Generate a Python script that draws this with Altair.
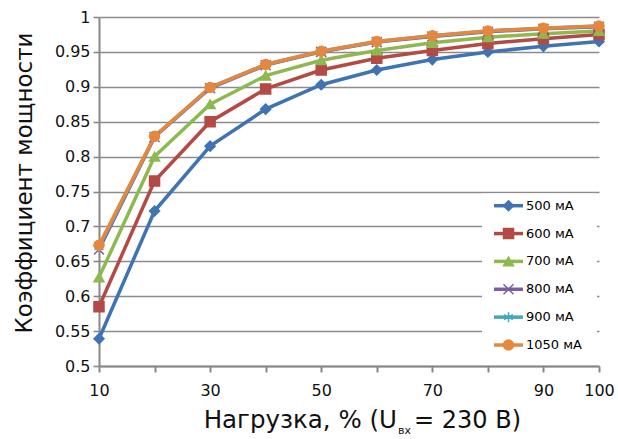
import altair as alt
import pandas as pd

# ---- data ----
load = [10, 20, 30, 40, 50, 60, 70, 80, 90, 100]
series_names = ["500 мА", "600 мА", "700 мА", "800 мА", "900 мА", "1050 мА"]
pf_500 = [0.539, 0.722, 0.815, 0.868, 0.903, 0.924, 0.939, 0.950, 0.958, 0.965]
pf_600 = [0.585, 0.765, 0.850, 0.897, 0.924, 0.941, 0.952, 0.962, 0.969, 0.975]
pf_700 = [0.627, 0.800, 0.875, 0.916, 0.938, 0.952, 0.963, 0.971, 0.976, 0.980]
pf_800 = [0.667, 0.828, 0.898, 0.931, 0.950, 0.964, 0.972, 0.979, 0.983, 0.986]
pf_900 = [0.670, 0.829, 0.899, 0.932, 0.951, 0.965, 0.973, 0.980, 0.984, 0.987]
pf_1050 = [0.673, 0.829, 0.899, 0.932, 0.951, 0.965, 0.973, 0.980, 0.984, 0.987]

y_ticks = [0.5, 0.55, 0.6, 0.65, 0.7, 0.75, 0.8, 0.85, 0.9, 0.95, 1.0]
x_ticks = [10, 20, 30, 40, 50, 60, 70, 80, 90, 100]
x_labels_shown = [10, 30, 50, 70, 90, 100]

y_title = "Коэффициент мощности"
x_title_main = "Нагрузка, % (U"
x_title_sub = "вх"
x_title_end = "= 230 В)"

colors = ["#3F73B1", "#B34A46", "#8DB950", "#7A5FA0", "#44A6C0", "#E5883E"]
shapes = [
    "diamond",
    "square",
    "triangle-up",
    "M-1,-1L1,1M-1,1L1,-1",
    "M0,-1L0,1M-0.87,-0.5L0.87,0.5M-0.87,0.5L0.87,-0.5",
    "circle",
]

FONT = "DejaVu Sans"
TXT = "#111111"
GREY = "#888888"

rows = []
for name, vals in zip(series_names, [pf_500, pf_600, pf_700, pf_800, pf_900, pf_1050]):
    for x, v in zip(load, vals):
        rows.append({"load": x, "pf": v, "series": name})
df = pd.DataFrame(rows)
legend_df = pd.DataFrame({"series": series_names})

color_scale = alt.Scale(domain=series_names, range=colors)
shape_scale = alt.Scale(domain=series_names, range=shapes)

x_enc = alt.X(
    "load:Q",
    scale=alt.Scale(domain=[10, 100], nice=False, zero=False),
    axis=alt.Axis(
        values=x_ticks,
        labelExpr="indexof(" + str(x_labels_shown) + ", datum.value) >= 0 ? datum.label : ''",
        title=None,
        grid=False,
        domainColor=GREY,
        domainWidth=2,
        tickColor=GREY,
        tickWidth=2,
        tickSize=6,
        labelFont=FONT,
        labelFontSize=16,
        labelColor=TXT,
        labelPadding=10,
        labelFlush=False,
        labelOverlap=False,
    ),
)
y_enc = alt.Y(
    "pf:Q",
    scale=alt.Scale(domain=[0.5, 1.0], nice=False, zero=False),
    axis=alt.Axis(
        values=y_ticks,
        format="~g",
        title=y_title,
        titleFont=FONT,
        titleFontSize=23,
        titleFontWeight="normal",
        titleColor=TXT,
        titleAngle=-90,
        titleX=-68,
        titleY=165.5,
        titleAlign="center",
        titleBaseline="alphabetic",
        grid=True,
        gridColor="#8C8C8C",
        gridWidth=1.6,
        domainColor=GREY,
        domainWidth=2,
        tickColor=GREY,
        tickWidth=1.6,
        tickSize=6,
        labelFont=FONT,
        labelFontSize=16,
        labelColor=TXT,
        labelPadding=3,
        labelFlush=False,
        labelOverlap=False,
    ),
)

base = alt.Chart(df)

lines = base.mark_line(strokeWidth=3.5).encode(
    x=x_enc,
    y=y_enc,
    color=alt.Color("series:N", scale=color_scale, sort=series_names, legend=None),
)

points = base.mark_point(filled=True, size=100, strokeWidth=1.5, opacity=1).encode(
    x=x_enc,
    y=y_enc,
    color=alt.Color("series:N", scale=color_scale, sort=series_names, legend=None),
    stroke=alt.Stroke("series:N", scale=color_scale, sort=series_names, legend=None),
    shape=alt.Shape("series:N", scale=shape_scale, sort=series_names, legend=None),
)

main = alt.layer(lines, points)

# ---- legend box (drawn from the series list) ----
leg_y = alt.Y(
    "series:N",
    sort=series_names,
    scale=alt.Scale(type="point", domain=series_names, range=[188.7, 328], padding=0),
    axis=None,
)
leg_bg = alt.Chart(pd.DataFrame({"k": [0]})).mark_rect(color="white").encode(
    x=alt.value(383), x2=alt.value(498), y=alt.value(176.5), y2=alt.value(347.5)
)
leg_lines = alt.Chart(legend_df).mark_rule(strokeWidth=3.5).encode(
    x=alt.value(395),
    x2=alt.value(424),
    y=leg_y,
    color=alt.Color("series:N", scale=color_scale, sort=series_names, legend=None),
)
leg_marks = alt.Chart(legend_df).mark_point(filled=True, size=100, strokeWidth=1.5, opacity=1).encode(
    x=alt.value(409.5),
    y=leg_y,
    color=alt.Color("series:N", scale=color_scale, sort=series_names, legend=None),
    stroke=alt.Stroke("series:N", scale=color_scale, sort=series_names, legend=None),
    shape=alt.Shape("series:N", scale=shape_scale, sort=series_names, legend=None),
)
leg_text = alt.Chart(legend_df).mark_text(
    align="left", baseline="middle", font=FONT, fontSize=13, color="#000000"
).encode(x=alt.value(427), y=leg_y, text="series:N")

legend = alt.layer(leg_bg, leg_lines, leg_marks, leg_text)

# ---- x title with subscript ----
t_main = alt.Chart(pd.DataFrame({"t": [x_title_main]})).mark_text(
    align="right", baseline="alphabetic", font=FONT, fontSize=24.5, color=TXT
).encode(x=alt.value(298), y=alt.value(410.7), text="t:N")
t_sub = alt.Chart(pd.DataFrame({"t": [x_title_sub]})).mark_text(
    align="left", baseline="alphabetic", font=FONT, fontSize=11, color=TXT
).encode(x=alt.value(299), y=alt.value(417), text="t:N")
t_end = alt.Chart(pd.DataFrame({"t": [x_title_end]})).mark_text(
    align="left", baseline="alphabetic", font=FONT, fontSize=24, color=TXT
).encode(x=alt.value(315), y=alt.value(410.7), text="t:N")

chart = (
    alt.layer(main, legend, t_main, t_sub, t_end)
    .resolve_scale(y="independent")
    .properties(
        width=500,
        height=349,
        padding={"left": 99, "top": 17, "right": 19, "bottom": 73},
        autosize=alt.AutoSizeParams(type="none"),
        background="white",
    )
    .configure_view(stroke=None)
)

chart.save("out.html", embed_options={"renderer": "svg", "actions": False})
